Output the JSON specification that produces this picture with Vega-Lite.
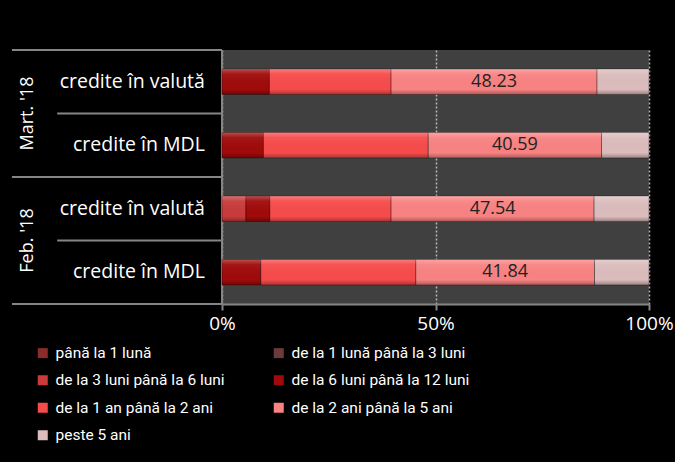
{
  "$schema": "https://vega.github.io/schema/vega-lite/v6.json",
  "width": 427,
  "height": 254,
  "autosize": "none",
  "padding": {"left": 222, "top": 50, "right": 26, "bottom": 158},
  "background": "black",
  "config": {
    "view": {"fill": "#404040", "stroke": null},
    "font": "Open Sans"
  },
  "datasets": {
    "segmente": [
      {"perioada": "Mart. '18", "credit": "credite în valută", "scadenta": "de la 6 luni până la 12 luni", "valoare": 11.1},
      {"perioada": "Mart. '18", "credit": "credite în valută", "scadenta": "de la 1 an până la 2 ani", "valoare": 28.5},
      {"perioada": "Mart. '18", "credit": "credite în valută", "scadenta": "de la 2 ani până la 5 ani", "valoare": 48.23},
      {"perioada": "Mart. '18", "credit": "credite în valută", "scadenta": "peste 5 ani", "valoare": 12.17},
      {"perioada": "Mart. '18", "credit": "credite în MDL", "scadenta": "de la 6 luni până la 12 luni", "valoare": 9.7},
      {"perioada": "Mart. '18", "credit": "credite în MDL", "scadenta": "de la 1 an până la 2 ani", "valoare": 38.6},
      {"perioada": "Mart. '18", "credit": "credite în MDL", "scadenta": "de la 2 ani până la 5 ani", "valoare": 40.59},
      {"perioada": "Mart. '18", "credit": "credite în MDL", "scadenta": "peste 5 ani", "valoare": 11.11},
      {"perioada": "Feb. '18", "credit": "credite în valută", "scadenta": "de la 3 luni până la 6 luni", "valoare": 5.6},
      {"perioada": "Feb. '18", "credit": "credite în valută", "scadenta": "de la 6 luni până la 12 luni", "valoare": 5.6},
      {"perioada": "Feb. '18", "credit": "credite în valută", "scadenta": "de la 1 an până la 2 ani", "valoare": 28.4},
      {"perioada": "Feb. '18", "credit": "credite în valută", "scadenta": "de la 2 ani până la 5 ani", "valoare": 47.54},
      {"perioada": "Feb. '18", "credit": "credite în valută", "scadenta": "peste 5 ani", "valoare": 12.86},
      {"perioada": "Feb. '18", "credit": "credite în MDL", "scadenta": "de la 6 luni până la 12 luni", "valoare": 9.1},
      {"perioada": "Feb. '18", "credit": "credite în MDL", "scadenta": "de la 1 an până la 2 ani", "valoare": 36.3},
      {"perioada": "Feb. '18", "credit": "credite în MDL", "scadenta": "de la 2 ani până la 5 ani", "valoare": 41.84},
      {"perioada": "Feb. '18", "credit": "credite în MDL", "scadenta": "peste 5 ani", "valoare": 12.76}
    ],
    "randuri": [
      {"perioada": "Mart. '18", "credit": "credite în valută"},
      {"perioada": "Mart. '18", "credit": "credite în MDL"},
      {"perioada": "Feb. '18", "credit": "credite în valută"},
      {"perioada": "Feb. '18", "credit": "credite în MDL"}
    ],
    "perioade": [
      {"perioada": "Mart. '18"},
      {"perioada": "Feb. '18"}
    ]
  },
  "layer": [
    {
      "data": {"name": "perioade"},
      "mark": {"type": "rule", "color": "#858585", "strokeWidth": 2},
      "encoding": {
        "y": {"field": "perioada", "type": "nominal", "bandPosition": 0, "sort": ["Mart. '18", "Feb. '18"], "scale": {"paddingInner": 0, "paddingOuter": 0}, "axis": null},
        "x": {"datum": -49.2, "type": "quantitative"},
        "x2": {"datum": 0}
      }
    },
    {
      "data": {"name": "perioade"},
      "transform": [{"filter": "datum.perioada === \"Feb. '18\""}],
      "mark": {"type": "rule", "color": "#858585", "strokeWidth": 2},
      "encoding": {
        "y": {"field": "perioada", "type": "nominal", "bandPosition": 1, "sort": ["Mart. '18", "Feb. '18"]},
        "x": {"datum": -49.2, "type": "quantitative"},
        "x2": {"datum": 0}
      }
    },
    {
      "data": {"name": "perioade"},
      "mark": {"type": "rule", "color": "#858585", "strokeWidth": 2},
      "encoding": {
        "y": {"field": "perioada", "type": "nominal", "bandPosition": 0.5, "sort": ["Mart. '18", "Feb. '18"]},
        "x": {"datum": -38.6, "type": "quantitative"},
        "x2": {"datum": 0}
      }
    },
    {
      "data": {"name": "perioade"},
      "mark": {"type": "text", "color": "white", "fontSize": 18, "angle": 270, "align": "center", "baseline": "middle"},
      "encoding": {
        "y": {"field": "perioada", "type": "nominal", "sort": ["Mart. '18", "Feb. '18"]},
        "x": {"datum": -45.5, "type": "quantitative"},
        "text": {"field": "perioada"}
      }
    },
    {
      "data": {"name": "randuri"},
      "mark": {"type": "text", "color": "white", "fontSize": 19.5, "align": "right", "baseline": "middle"},
      "encoding": {
        "y": {"field": "perioada", "type": "nominal", "sort": ["Mart. '18", "Feb. '18"]},
        "yOffset": {"field": "credit", "type": "nominal", "sort": ["credite în valută", "credite în MDL"], "scale": {"paddingInner": 0.6, "paddingOuter": 0.3}},
        "x": {"datum": -4, "type": "quantitative"},
        "text": {"field": "credit"}
      }
    },
    {
      "data": {"name": "perioade"},
      "mark": {"type": "rule", "color": "#858585", "strokeWidth": 2},
      "encoding": {
        "x": {"datum": 0, "type": "quantitative"}
      }
    },
    {
      "data": {"name": "segmente"},
      "transform": [
        {"calculate": "indexof(['până la 1 lună','de la 1 lună până la 3 luni','de la 3 luni până la 6 luni','de la 6 luni până la 12 luni','de la 1 an până la 2 ani','de la 2 ani până la 5 ani','peste 5 ani'], datum.scadenta)", "as": "ordine"},
        {"stack": "valoare", "groupby": ["perioada", "credit"], "sort": [{"field": "ordine", "order": "ascending"}], "as": ["x0", "x1"]},
        {"calculate": "(datum.x0 + datum.x1) / 2", "as": "xm"}
      ],
      "layer": [
        {
          "mark": {"type": "bar", "stroke": "#00000055", "strokeWidth": 1},
          "encoding": {
            "y": {"field": "perioada", "type": "nominal", "sort": ["Mart. '18", "Feb. '18"]},
            "yOffset": {"field": "credit", "type": "nominal", "sort": ["credite în valută", "credite în MDL"]},
            "x": {"field": "x0", "type": "quantitative", "scale": {"domain": [0, 100], "nice": false}, "axis": {
              "values": [0, 50, 100], "labelExpr": "datum.value + '%'", "title": null,
              "domainColor": "#858585", "domainWidth": 2, "tickColor": "#858585", "tickWidth": 2, "tickSize": 6,
              "grid": true, "gridColor": "#b8b8b8", "gridDash": [2, 2], "gridWidth": 1.5,
              "labelColor": "white", "labelFontSize": 19, "labelPadding": 4, "labelFlush": false
            }},
            "x2": {"field": "x1"},
            "color": {"field": "scadenta", "type": "nominal",
              "scale": {
                "domain": ["până la 1 lună", "de la 1 lună până la 3 luni", "de la 3 luni până la 6 luni", "de la 6 luni până la 12 luni", "de la 1 an până la 2 ani", "de la 2 ani până la 5 ani", "peste 5 ani"],
                "range": ["#8c2b2b", "#6b3b3b", "#c83b3b", "#a00a0a", "#f74b4b", "#f98282", "#dcbcbc"]
              },
              "legend": {
                "title": null, "orient": "none", "legendX": -187, "legendY": 295, "columns": 2, "direction": "horizontal",
                "symbolType": "square", "symbolSize": 100, "symbolStrokeWidth": 0,
                "labelFont": "Roboto", "labelColor": "white", "labelFontSize": 15.5, "labelOffset": 5, "labelLimit": 400,
                "rowPadding": 10.5, "columnPadding": 46
              }
            }
          }
        },
        {
          "mark": {"type": "bar", "fill": {"gradient": "linear", "x1": 0, "y1": 0, "x2": 0, "y2": 1, "stops": [
            {"offset": 0, "color": "rgba(255,255,255,0.28)"},
            {"offset": 0.2, "color": "rgba(255,255,255,0.05)"},
            {"offset": 0.8, "color": "rgba(0,0,0,0.0)"},
            {"offset": 1, "color": "rgba(0,0,0,0.3)"}
          ]}},
          "encoding": {
            "y": {"field": "perioada", "type": "nominal", "sort": ["Mart. '18", "Feb. '18"]},
            "yOffset": {"field": "credit", "type": "nominal", "sort": ["credite în valută", "credite în MDL"]},
            "x": {"field": "x0", "type": "quantitative"},
            "x2": {"field": "x1"}
          }
        },
        {
          "transform": [{"filter": "datum.scadenta === 'de la 2 ani până la 5 ani'"}],
          "mark": {"type": "text", "color": "#222222", "fontSize": 18, "baseline": "middle"},
          "encoding": {
            "y": {"field": "perioada", "type": "nominal", "sort": ["Mart. '18", "Feb. '18"]},
            "yOffset": {"field": "credit", "type": "nominal", "sort": ["credite în valută", "credite în MDL"]},
            "x": {"field": "xm", "type": "quantitative"},
            "text": {"field": "valoare", "format": ".2f"}
          }
        }
      ]
    }
  ]
}
